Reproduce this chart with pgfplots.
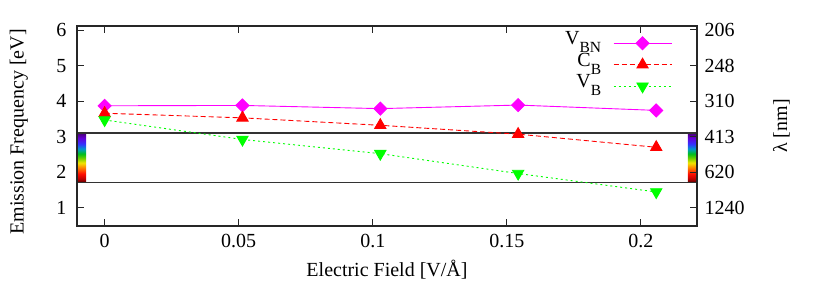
\documentclass[border=0pt]{standalone}
\usepackage{fontspec}
\setmainfont{Liberation Serif}
\usepackage{pgfplots}
\pgfplotsset{compat=1.18}
\definecolor{cmag}{rgb}{1,0,1}
\definecolor{cred}{rgb}{1,0,0}
\definecolor{cgreen}{rgb}{0,1,0}
\definecolor{rb0}{rgb}{0.30,0,0}
\definecolor{rb1}{rgb}{0.75,0,0}
\definecolor{rb2}{rgb}{1,0.05,0}
\definecolor{rb3}{rgb}{1,0.5,0}
\definecolor{rb4}{rgb}{0.95,0.9,0}
\definecolor{rb5}{rgb}{0.4,0.8,0}
\definecolor{rb6}{rgb}{0,0.75,0.1}
\definecolor{rb7}{rgb}{0,0.6,0.8}
\definecolor{rb8}{rgb}{0.2,0.2,1}
\definecolor{rb9}{rgb}{0.4,0,0.85}
\definecolor{rb10}{rgb}{0.28,0,0.45}
\pgfdeclareverticalshading{rainbow}{100bp}{color(0bp)=(rb0); color(25bp)=(rb0); color(29bp)=(rb1); color(34bp)=(rb2); color(40bp)=(rb3); color(45bp)=(rb4); color(50bp)=(rb5); color(54bp)=(rb6); color(59bp)=(rb7); color(64bp)=(rb8); color(70bp)=(rb9); color(75bp)=(rb10); color(100bp)=(rb10)}
\newcommand{\sub}[1]{\raisebox{-0.38em}{\fontsize{15.5bp}{15.5bp}\selectfont #1}}
\pgfplotsset{
  common/.style={
    scale only axis, width=620bp, height=200bp,
    xmin=-0.0103, xmax=0.2209, ymin=0.48, ymax=6.12,
    tick align=inside, major tick length=7bp,
    axis line style={line width=1.2bp, black!85},
    every tick/.style={line width=1bp, black!85},
    tick label style={font=\fontsize{20bp}{24bp}\selectfont},
    label style={font=\fontsize{20bp}{24bp}\selectfont},
  }
}
\begin{document}
\begin{tikzpicture}
\begin{axis}[common,
  xtick={0,0.05,0.1,0.15,0.2}, xticklabels={0,0.05,0.1,0.15,0.2},
  ytick={1,2,3,4,5,6}, yticklabels={1,2,3,4,5,6},
  xtick pos=both, xticklabel pos=bottom, ytick pos=left,
  xticklabel style={yshift=-5bp},
  yticklabel style={xshift=-7bp},
  xlabel={Electric Field [V/Å]},
  ylabel={Emission Frequency [eV]},
  xlabel style={at={(axis description cs:0.5,-0.22)}, anchor=center},
  ylabel style={at={(axis description cs:-0.094,0.47)}, anchor=center},
  legend style={draw=none, fill=none, at={(axis description cs:0.96,0.9685)}, anchor=north east,
    inner xsep=0pt, inner ysep=0pt, row sep=0pt, column sep=12bp,
    nodes={inner sep=0pt, text height=12.5bp, text depth=9bp},
    font=\fontsize{20bp}{20bp}\selectfont},
  legend plot pos=right, legend cell align=right,
  legend image code/.code={\draw[mark repeat=2,mark phase=2] plot coordinates {(0bp,0bp)(29bp,0bp)(58bp,0bp)};},
]
\fill[shading=rainbow] (axis cs:-0.0103,1.7) rectangle (axis cs:-0.0069,3.1);
\fill[shading=rainbow] (axis cs:0.2175,1.7) rectangle (axis cs:0.2209,3.1);
\addplot[forget plot, line width=1.2bp, black!80] coordinates {(-0.0103,3.1) (0.2209,3.1)};
\addplot[forget plot, line width=1.2bp, black!80] coordinates {(-0.0103,1.7) (0.2209,1.7)};
\addplot[color=cmag, line width=0.9bp, mark=square*, mark size=4.6bp, mark options={rotate=45, solid, draw=cmag, fill=cmag}]
  coordinates {(0,3.87) (0.0514,3.88) (0.1028,3.79) (0.1542,3.89) (0.2057,3.74)};
\addlegendentry{V\sub{BN}}
\addplot[color=cred, line width=0.9bp, dash pattern=on 5bp off 3bp, mark=triangle*, mark size=6.5bp, mark options={solid, draw=cred, fill=cred}]
  coordinates {(0,3.66) (0.0514,3.53) (0.1028,3.32) (0.1542,3.07) (0.2057,2.70)};
\addlegendentry{C\sub{B}}
\addplot[color=cgreen, line width=0.9bp, dash pattern=on 2bp off 3bp, mark=triangle*, mark size=6.5bp, mark options={rotate=180, solid, draw=cgreen, fill=cgreen}]
  coordinates {(0,3.47) (0.0514,2.92) (0.1028,2.52) (0.1542,1.96) (0.2057,1.44)};
\addlegendentry{V\sub{B}}
\end{axis}
\begin{axis}[common,
  hide x axis,
  ytick={1,2,3,4,5,6.02}, yticklabels={1240,620,413,310,248,206},
  ytick pos=right, yticklabel pos=right,
  yticklabel style={anchor=west, xshift=4bp},
  ylabel={λ [nm]},
  ylabel style={at={(axis description cs:1.136,0.5)}, anchor=center, rotate=0},
]
\end{axis}
\path (current axis.south west) ++(-77bp,-66bp) coordinate (bl);
\path (current axis.north east) ++(133bp,26bp) coordinate (tr);
\path[use as bounding box] (bl) rectangle (tr);
\end{tikzpicture}
\end{document}
